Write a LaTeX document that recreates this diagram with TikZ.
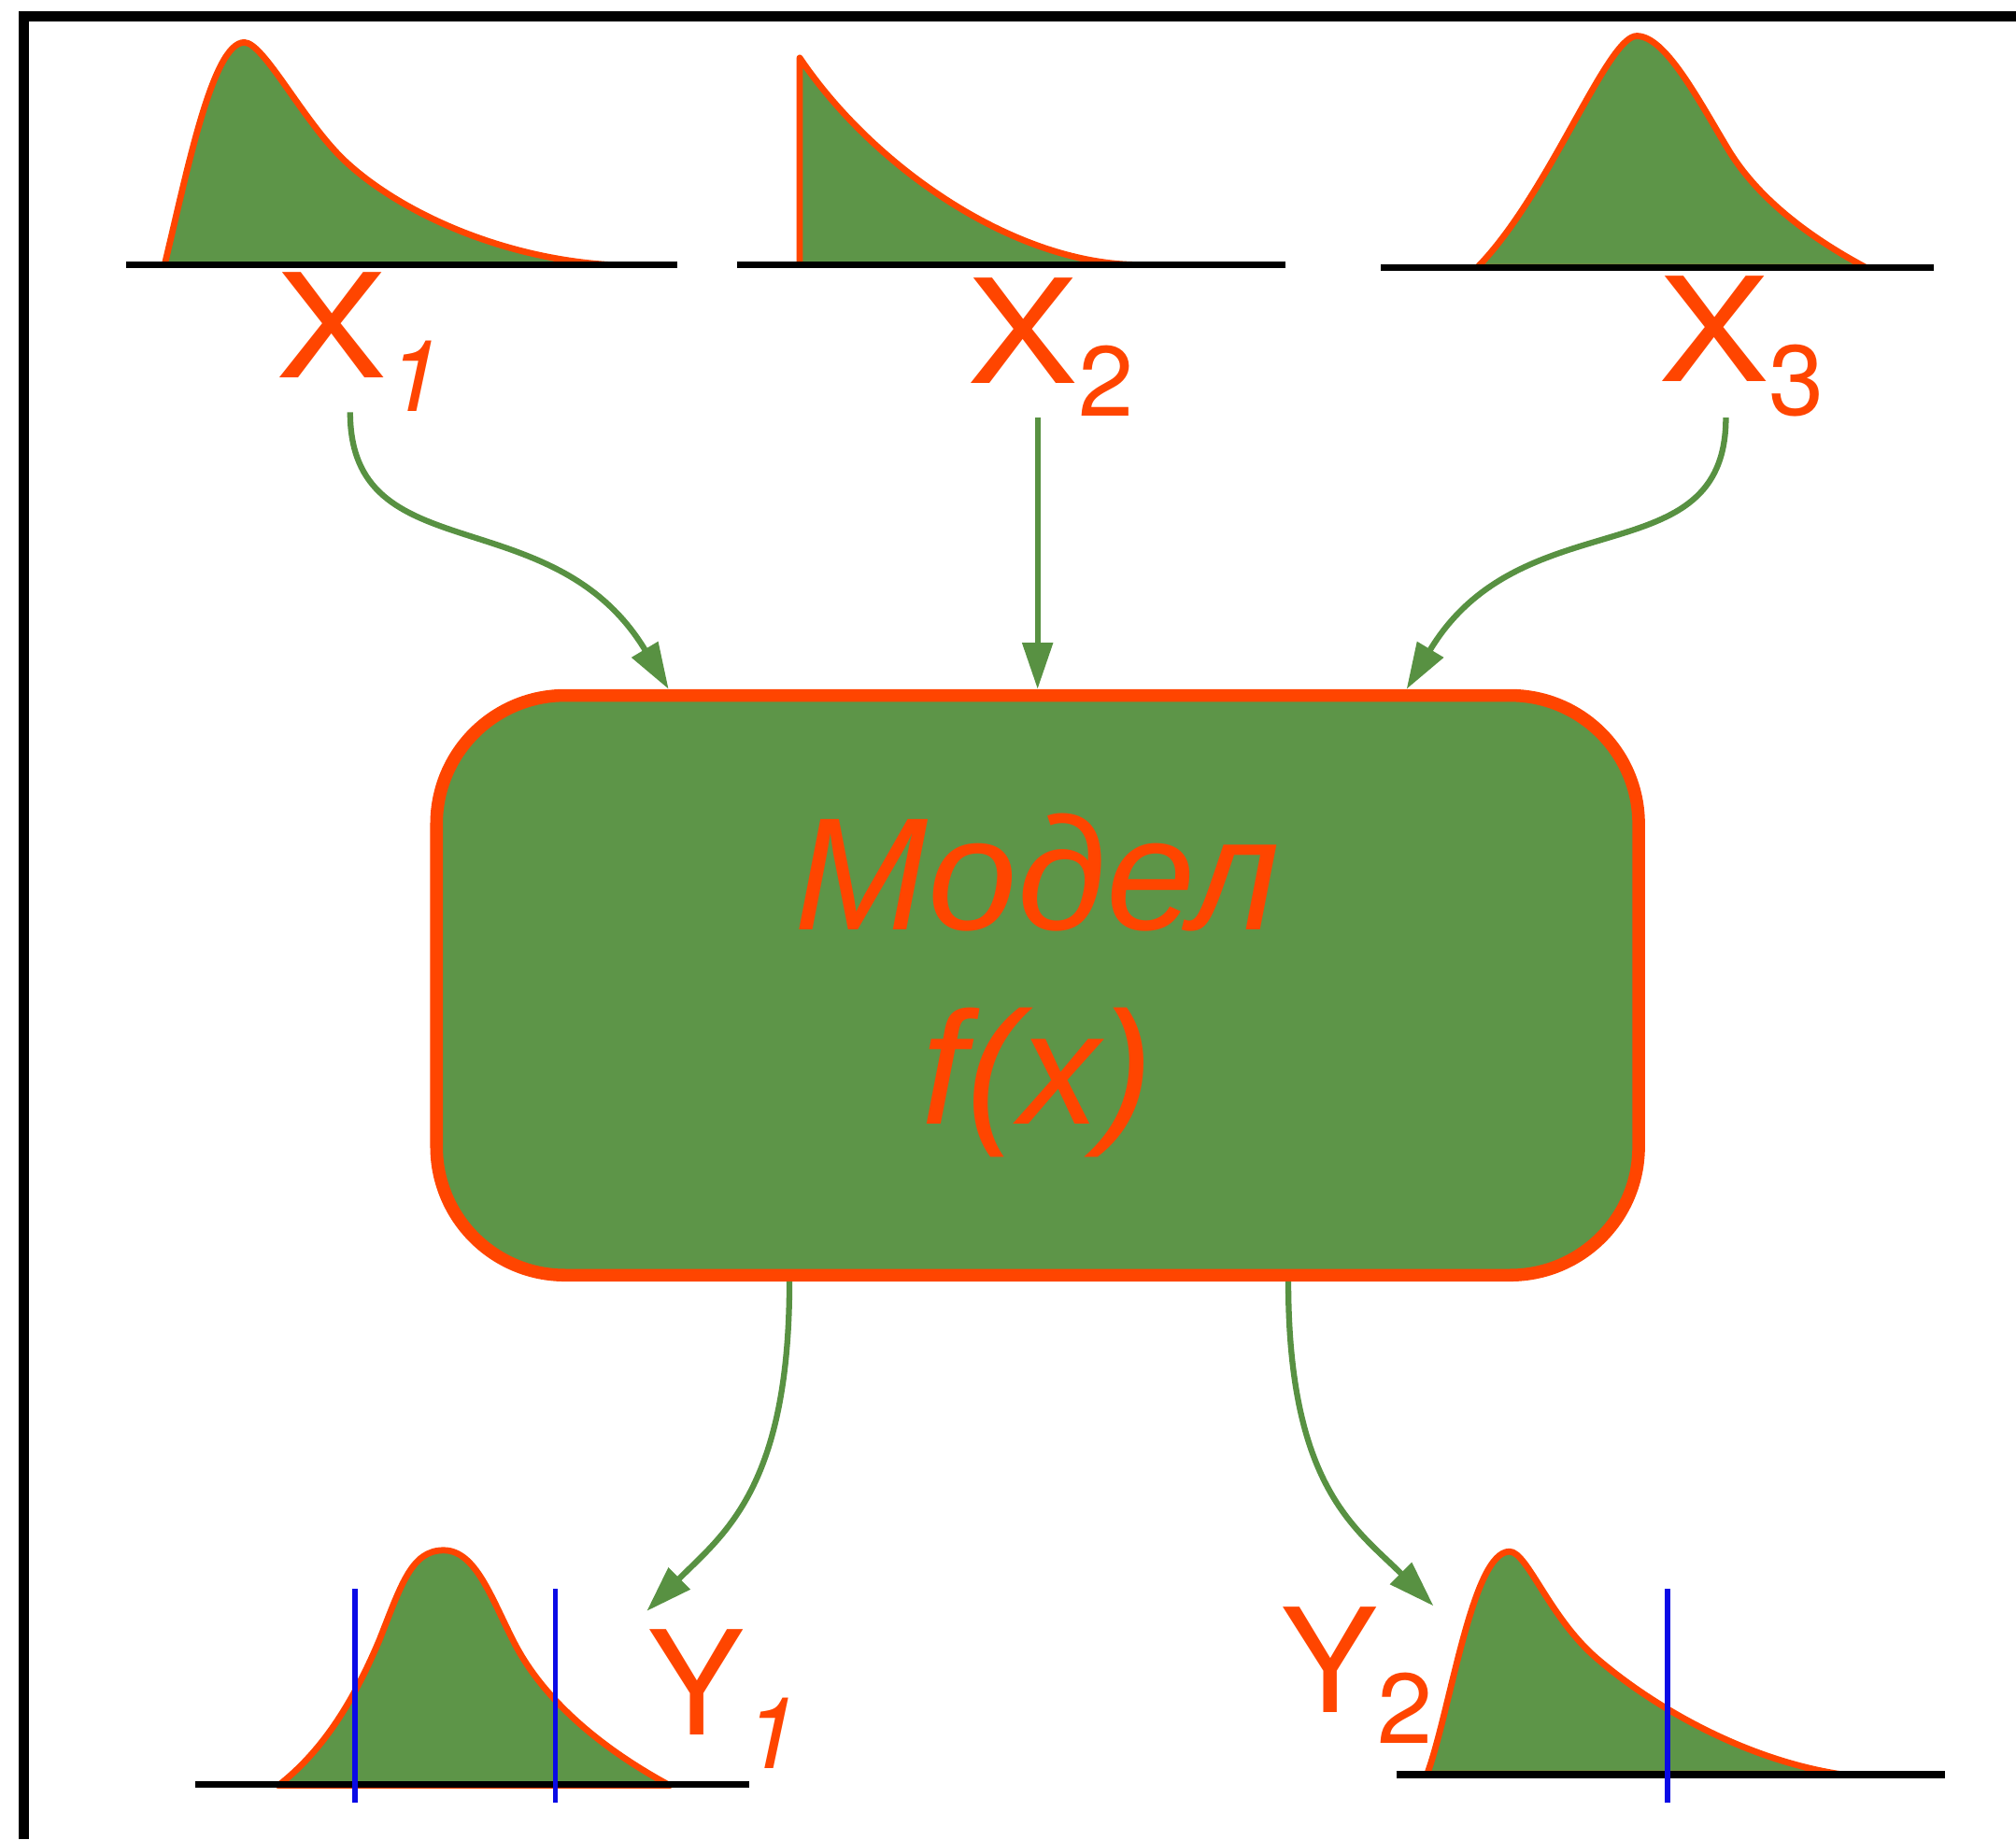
\documentclass[tikz,border=0pt]{standalone}
\usepackage{fontspec}
\setmainfont{Liberation Sans}
\newfontfamily\lblfont{TeX Gyre Heros}
\usetikzlibrary{arrows.meta, calc}

\definecolor{fillgreen}{RGB}{93,149,72}
\definecolor{redorange}{RGB}{255,69,0}
\definecolor{flowgreen}{RGB}{88,145,66}
\definecolor{markblue}{RGB}{10,10,230}

\newcommand{\subsz}{\fontsize{22}{26}\selectfont}
\newcommand{\wideX}{\scalebox{1.15}[1]{X}}

\begin{document}
\begin{tikzpicture}[>={Triangle[length=3.6mm, width=2.3mm]},
    frame/.style={line width=2.2pt},
    axis/.style={line width=1.5pt},
    dist/.style={fill=fillgreen, draw=redorange, line width=1.4pt, line join=round},
    quant/.style={markblue, line width=1.2pt},
    lbl/.style={redorange, inner sep=0pt, anchor=base west, font=\lblfont\fontsize{32}{38}\selectfont},
    modelbox/.style={draw=redorange, fill=fillgreen, line width=2.8pt, rounded corners=1cm,
        minimum width=9.35cm, minimum height=4.51cm, text=redorange, align=center,
        font=\fontsize{35.5}{43}\selectfont\itshape},
    flow/.style={->, flowgreen, line width=1.3pt}]
    \useasboundingbox (0,0) rectangle (15.68,14.31);
    \draw[frame] (0.185,0) -- (0.185,14.183) -- (15.68,14.183);

    % input distributions
    \filldraw[dist] (1.28,12.25) .. controls (1.45,12.95) and (1.65,13.98) .. (1.90,13.98)
        .. controls (2.05,13.98) and (2.35,13.38) .. (2.67,13.07)
        .. controls (3.1,12.66) and (3.9,12.30) .. (4.74,12.25) -- cycle;
    \filldraw[dist] (6.22,12.25) -- (6.22,13.86) .. controls (6.8,13.0) and (7.9,12.25) .. (8.86,12.25) -- cycle;
    \filldraw[dist] (11.49,12.23) .. controls (12.05,12.8) and (12.5,14.03) .. (12.73,14.03)
        .. controls (12.95,14.03) and (13.2,13.55) .. (13.44,13.15)
        .. controls (13.68,12.75) and (14.1,12.45) .. (14.51,12.23) -- cycle;
    \draw[axis] (0.98,12.25) -- (5.27,12.25);
    \draw[axis] (5.73,12.25) -- (10.0,12.25);
    \draw[axis] (10.74,12.23) -- (15.04,12.23);

    % output distributions
    \filldraw[dist] (2.165,0.42) .. controls (2.55,0.72) and (2.78,1.15) .. (2.95,1.55)
        .. controls (3.12,1.98) and (3.2,2.25) .. (3.45,2.25)
        .. controls (3.70,2.25) and (3.82,1.88) .. (4.0,1.53)
        .. controls (4.2,1.14) and (4.6,0.75) .. (5.21,0.42) -- cycle;
    \filldraw[dist] (11.10,0.51) .. controls (11.28,1.0) and (11.45,2.24) .. (11.74,2.24)
        .. controls (11.88,2.24) and (12.05,1.72) .. (12.43,1.40)
        .. controls (12.9,1.0) and (13.6,0.62) .. (14.30,0.51) -- cycle;
    \draw[axis] (1.52,0.43) -- (5.83,0.43);
    \draw[axis] (10.86,0.505) -- (15.13,0.505);
    \draw[quant] (2.76,0.29) -- (2.76,1.95);
    \draw[quant] (4.32,0.29) -- (4.32,1.95);
    \draw[quant] (12.97,0.29) -- (12.97,1.95);

    \node[lbl] (x1) at (2.14,11.37) {\wideX\raisebox{-0.26cm}{\subsz\itshape 1}};
    \node[lbl] (x2) at (7.52,11.33) {\wideX\raisebox{-0.26cm}{\subsz 2}};
    \node[lbl] (x3) at (12.89,11.34) {\wideX\raisebox{-0.26cm}{\subsz 3}};
    \node[lbl] (y1) at (5.03,0.81) {Y\raisebox{-0.26cm}{\subsz\itshape 1}};
    \node[lbl] (y2) at (9.955,0.99) {Y\raisebox{-0.24cm}{\subsz 2}};

    \node[modelbox] (model) at (8.07,6.645) {Модел\\f(x)};

    \draw[flow] ([xshift=-0.7mm]x1.south) .. controls +(0,-1.25) and +(-0.9,1.5) .. ($(model.north)+(-2.87,0)$);
    \draw[flow] (x2.south -| model.north) -- (model.north);
    \draw[flow] ([xshift=-1.2mm]x3.south) .. controls +(0,-1.25) and +(0.9,1.5) .. ($(model.north)+(2.87,0)$);
    \draw[flow] ($(model.south)+(-1.93,0)$) .. controls +(0,-1.6) and +(0.6,0.6) .. ([yshift=1.4mm]y1.north west);
    \draw[flow] ($(model.south)+(1.95,0)$) .. controls +(0,-1.6) and +(-0.6,0.6) .. (y2.north east);
\end{tikzpicture}
\end{document}
